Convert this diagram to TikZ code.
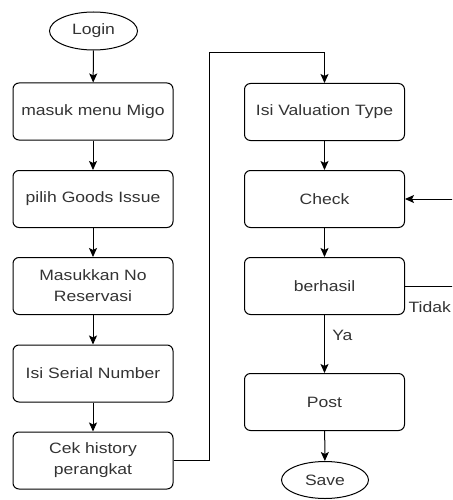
\documentclass[tikz,border=0pt]{standalone}
\usepackage{fontspec}
\setmainfont{Liberation Sans}[FakeStretch=1.17]
\usetikzlibrary{shapes.geometric,arrows.meta}
\definecolor{txt}{HTML}{333333}
\begin{document}
\begin{tikzpicture}[x=1pt,y=-1pt,
  box/.style={draw=black,line width=1pt,rounded corners=6pt,minimum width=160pt,minimum height=57pt,align=center,text=txt,font=\fontsize{15}{21}\selectfont},
  oval/.style={draw=black,line width=1pt,ellipse,minimum width=88pt,minimum height=38pt,inner sep=0pt,text=txt,font=\fontsize{15}{21}\selectfont},
  arr/.style={draw=black,line width=1pt,-{Stealth[length=9pt,width=8pt,inset=2pt]}},
  lbl/.style={text=txt,font=\fontsize{15}{21}\selectfont}]
\useasboundingbox (0,0) rectangle (452,500);
\clip (0,0) rectangle (452,500);
\node[oval] (login) at (93.5,31) {Login};
\node[box] (b1) at (93,111.5) {masuk menu Migo};
\node[box] (b2) at (93,199) {pilih Goods Issue};
\node[box] (b3) at (93,286) {Masukkan No\\Reservasi};
\node[box] (b4) at (93,373.5) {Isi Serial Number};
\node[box] (b5) at (93,460.5) {Cek history\\perangkat};
\node[box] (v) at (324.5,112) {Isi Valuation Type};
\node[box] (c) at (324.5,199) {Check};
\node[box] (h) at (324.5,286) {berhasil};
\node[box] (p) at (324.5,402) {Post};
\node[oval,minimum width=87pt,minimum height=37pt] (s) at (325,480) {Save};
\draw[arr] (login) -- (b1);
\draw[arr] (b1) -- (b2);
\draw[arr] (b2) -- (b3);
\draw[arr] (b3) -- (b4);
\draw[arr] (b4) -- (b5);
\coordinate (k1) at (209,53);
\draw[arr] (b5.east) -| (k1) -| (v.north);
\draw[arr] (v) -- (c);
\draw[arr] (c) -- (h);
\draw[arr] (h) -- node[lbl,right,pos=0.35,xshift=4pt] {Ya} (p);
\draw[arr] (p) -- (s);
\coordinate (k2) at (470,286);
\draw[arr] (h.east) -- (k2) |- (c.east);
\node[lbl,anchor=east,inner sep=1pt] (t) at (452,307) {Tidak};
\end{tikzpicture}
\end{document}
